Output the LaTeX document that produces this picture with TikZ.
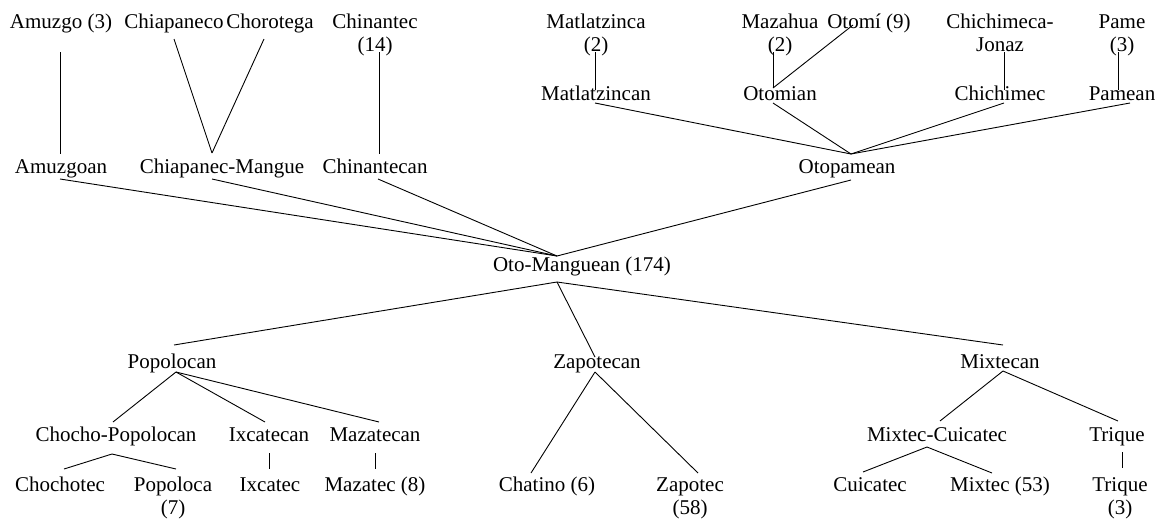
\documentclass[tikz,border=0pt]{standalone}
\usepackage{fontspec}
\setmainfont{Liberation Serif}
\begin{document}
\begin{tikzpicture}[x=1pt,y=-1pt,
  lbl/.style={anchor=base,inner sep=0pt,align=center,
    font=\fontsize{21pt}{23pt}\selectfont},
  edge/.style={line width=0.9pt,black}]
\useasboundingbox (0,0) rectangle (1163,520);

% Two-line labels are placed by the baseline of their last line.

% ---- top leaves
\node[lbl] (amz3)   at (61,28)   {Amuzgo (3)};
\node[lbl] (chiapa) at (174,28)  {Chiapaneco};
\node[lbl] (choro)  at (270,28)  {Chorotega};
\node[lbl] (chin14) at (375,51)  {Chinantec\\(14)};
\node[lbl] (matl2)  at (596,51)  {Matlatzinca\\(2)};
\node[lbl] (maz2)   at (780,51)  {Mazahua\\(2)};
\node[lbl] (otomi9) at (869,28)  {Otomí (9)};
\node[lbl] (chij)   at (1000,51) {Chichimeca-\\Jonaz};
\node[lbl] (pame3)  at (1122,51) {Pame\\(3)};

% ---- Otopamean branches
\node[lbl] (matlan)    at (596,100)  {Matlatzincan};
\node[lbl] (otomian)   at (780,100)  {Otomian};
\node[lbl] (chichimec) at (1000,100) {Chichimec};
\node[lbl] (pamean)    at (1122,100) {Pamean};

% ---- main branches above the root
\node[lbl] (amzg) at (61,173)  {Amuzgoan};
\node[lbl] (chm)  at (222,173) {Chiapanec-Mangue};
\node[lbl] (chtn) at (375,173) {Chinantecan};
\node[lbl] (otop) at (847,173) {Otopamean};

% ---- root
\node[lbl] (om) at (582,271) {Oto-Manguean (174)};

% ---- main branches below the root
\node[lbl] (popn) at (172,368)  {Popolocan};
\node[lbl] (zapn) at (597,368)  {Zapotecan};
\node[lbl] (mixn) at (1000,368) {Mixtecan};

% ---- sub-branches
\node[lbl] (chpo) at (116,441) {Chocho-Popolocan};
\node[lbl] (ixn)  at (269,441) {Ixcatecan};
\node[lbl] (mazn) at (375,441) {Mazatecan};
\node[lbl] (mxc)  at (937,441) {Mixtec-Cuicatec};
\node[lbl] (triq) at (1117,441) {Trique};

% ---- bottom leaves
\node[lbl] (chot) at (60,491)   {Chochotec};
\node[lbl] (popl) at (173,514)  {Popoloca\\(7)};
\node[lbl] (ixc)  at (270,491)  {Ixcatec};
\node[lbl] (maz8) at (375,491)  {Mazatec (8)};
\node[lbl] (chat) at (547,491)  {Chatino (6)};
\node[lbl] (zap)  at (690,514)  {Zapotec\\(58)};
\node[lbl] (cuic) at (870,491)  {Cuicatec};
\node[lbl] (mx53) at (1000,491) {Mixtec (53)};
\node[lbl] (tri3) at (1120,514) {Trique\\(3)};

% ---- connectors, upper part
\draw[edge] ([shift={(-1,24)}]amz3.base)   -- ([shift={(-1,-19)}]amzg.base);
\draw[edge] ([shift={(0,11)}]chiapa.base)  -- ([shift={(-10,-20)}]chm.base);
\draw[edge] ([shift={(-6,11)}]choro.base)  -- ([shift={(-10,-20)}]chm.base);
\draw[edge] ([shift={(4,1)}]chin14.base)   -- ([shift={(4,-19)}]chtn.base);

\draw[edge] ([shift={(-1,1)}]matl2.base)   -- ([shift={(-1,-10)}]matlan.base);
\draw[edge] ([shift={(-7,1)}]maz2.base)    -- ([shift={(-7,-12)}]otomian.base);
\draw[edge] ([shift={(-16,-3)}]otomi9.base) -- ([shift={(-7,-12)}]otomian.base);
\draw[edge] ([shift={(4,1)}]chij.base)     -- ([shift={(4,-10)}]chichimec.base);
\draw[edge] ([shift={(-4,1)}]pame3.base)   -- ([shift={(-4,-10)}]pamean.base);

\draw[edge] ([shift={(-1,3)}]matlan.base)    -- ([shift={(4,-19)}]otop.base);
\draw[edge] ([shift={(-7,3)}]otomian.base)   -- ([shift={(4,-19)}]otop.base);
\draw[edge] ([shift={(4,3)}]chichimec.base)  -- ([shift={(4,-19)}]otop.base);
\draw[edge] ([shift={(8,3)}]pamean.base)     -- ([shift={(4,-19)}]otop.base);

\draw[edge] ([shift={(-1,6)}]amzg.base) -- ([shift={(-25,-15)}]om.base);
\draw[edge] ([shift={(-10,6)}]chm.base) -- ([shift={(-25,-15)}]om.base);
\draw[edge] ([shift={(3,6)}]chtn.base)  -- ([shift={(-25,-15)}]om.base);
\draw[edge] ([shift={(4,7)}]otop.base)  -- ([shift={(-25,-15)}]om.base);

% ---- connectors, lower part
\draw[edge] ([shift={(-25,11)}]om.base) -- ([shift={(2,-23)}]popn.base);
\draw[edge] ([shift={(-25,11)}]om.base) -- ([shift={(-2,-11)}]zapn.base);
\draw[edge] ([shift={(-25,11)}]om.base) -- ([shift={(3,-23)}]mixn.base);

\draw[edge] ([shift={(4,4)}]popn.base) -- ([shift={(-3,-19)}]chpo.base);
\draw[edge] ([shift={(4,4)}]popn.base) -- ([shift={(-4,-19)}]ixn.base);
\draw[edge] ([shift={(4,4)}]popn.base) -- ([shift={(4,-19)}]mazn.base);

\draw[edge] ([shift={(-4,13)}]chpo.base) -- ([shift={(4,-22)}]chot.base);
\draw[edge] ([shift={(-4,13)}]chpo.base) -- ([shift={(3,-45)}]popl.base);
\draw[edge] ([shift={(0,12)}]ixn.base)   -- ([shift={(-1,-22)}]ixc.base);
\draw[edge] ([shift={(0,12)}]mazn.base)  -- ([shift={(0,-22)}]maz8.base);

\draw[edge] ([shift={(-2,4)}]zapn.base) -- ([shift={(-16,-18)}]chat.base);
\draw[edge] ([shift={(-2,4)}]zapn.base) -- ([shift={(8,-41)}]zap.base);

\draw[edge] ([shift={(3,3)}]mixn.base) -- ([shift={(3,-20)}]mxc.base);
\draw[edge] ([shift={(3,3)}]mixn.base) -- ([shift={(1,-20)}]triq.base);

\draw[edge] ([shift={(-10,6)}]mxc.base) -- ([shift={(-7,-19)}]cuic.base);
\draw[edge] ([shift={(-10,6)}]mxc.base) -- ([shift={(-8,-18)}]mx53.base);
\draw[edge] ([shift={(5,11)}]triq.base) -- ([shift={(2,-46)}]tri3.base);
\end{tikzpicture}
\end{document}
